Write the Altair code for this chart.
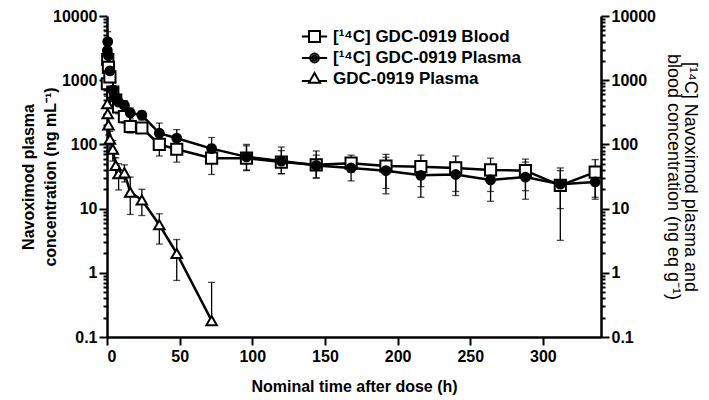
import altair as alt
import pandas as pd

S1 = "[¹⁴C] GDC-0919 Blood"
S2 = "[¹⁴C] GDC-0919  Plasma"
S3 = "GDC-0919  Plasma"
series_names = [S1, S2, S3]

t14 = [0.25, 0.5, 1, 2, 4, 6, 8, 12, 16, 24, 36, 48, 72, 96, 120, 144, 168, 192, 216, 240, 264, 288, 312, 336]
blood = [880, 2100, 1580, 1130, 650, 490, 385, 270, 190, 180, 100, 84, 61, 61, 53, 48, 51, 46, 45, 43, 40, 39, 23, 37]
blood_lo = [600, 1500, 1100, 800, 480, 380, 300, 215, 150, 150, 66, 53, 34, 39, 35, 30, 37, 20.6, 22, 18.5, 18.5, 19, 3.2, 15]
blood_hi = [1150, 2700, 2100, 1450, 820, 600, 470, 330, 230, 210, 130, 115, 100, 100, 91, 79, 68, 70, 68, 66, 61, 59, 43, 58]

plasma14 = [2900, 4000, 2400, 1400, 700, 520, 455, 405, 310, 285, 150, 125, 86, 64, 55, 47, 43, 39, 33, 34, 28, 31, 24, 26]
plasma14_lo = [2000, 2900, 1700, 1000, 520, 400, 350, 330, 250, 240, 110, 90, 55, 40, 35, 30, 27, 17, 15, 16, 13, 14, 10, 14]
plasma14_hi = [3800, 5700, 3200, 1900, 900, 650, 560, 480, 370, 330, 215, 170, 128, 95, 80, 68, 61, 63, 55, 53, 45, 53, 39, 45]

tg = [0.25, 0.5, 1, 2, 4, 6, 8, 12, 16, 24, 36, 48, 72]
gdc = [430, 300, 200, 120, 84, 47, 35, 36, 18, 13.6, 5.6, 2.0, 0.18]
gdc_lo = [300, 200, 140, 80, 55, 30, 19.5, 26, 8.1, 7.8, 2.8, 0.76, 0.18]
gdc_hi = [560, 400, 270, 160, 115, 62, 50, 48, 31, 20, 8.3, 3.3, 0.71]

rows = []
for name, ts, v, lo, hi in [(S1, t14, blood, blood_lo, blood_hi),
                            (S2, t14, plasma14, plasma14_lo, plasma14_hi),
                            (S3, tg, gdc, gdc_lo, gdc_hi)]:
    for a, b, c, d in zip(ts, v, lo, hi):
        rows.append({"t": a, "val": b, "lo": c, "hi": d, "series": name})
df = pd.DataFrame(rows)

FONT = "Liberation Sans"
ytick_vals = [round(m * 10 ** k, 6) for k in range(-1, 4) for m in range(1, 10)] + [10000]
xtick_vals = list(range(0, 341, 25))
is_major_y = "abs(log(datum.value)/LN10 - round(log(datum.value)/LN10)) < 0.001"
is_major_x = "datum.value % 50 === 0"

xscale = alt.Scale(domain=[0, 340], nice=False, zero=False)
yscale = alt.Scale(type="log", domain=[0.1, 10000], nice=False)
H = 321

def yaxis(orient, title, tx, lh, weight, size):
    return alt.Axis(
        orient=orient, values=ytick_vals, format="~g",
        labelExpr=f"{is_major_y} ? datum.label : ''",
        tickSize={"condition": {"test": is_major_y, "value": 8}, "value": 4},
        labelOverlap=False, title=title, titleAngle=(-90 if orient == "left" else 90),
        titleX=tx, titleY=H / 2, titleAlign="center", titleBaseline="middle",
        titleLineHeight=lh, titleFontWeight=weight, titleFontSize=size, labelPadding=2,
    )

xaxis = alt.Axis(
    values=xtick_vals, labelExpr=f"{is_major_x} ? datum.label : ''",
    tickSize={"condition": {"test": is_major_x, "value": 8}, "value": 4},
    labelOverlap=False, title="Nominal time after dose (h)", titlePadding=14, labelPadding=3,
)

base = alt.Chart(df)
X = alt.X("t:Q", scale=xscale, axis=xaxis)
Y = alt.Y("val:Q", scale=yscale,
          axis=yaxis("left", ["Navoximod plasma", "concentration (ng mL⁻¹)"], -79, 22, "bold", 16))

lines = base.mark_line(color="black", strokeWidth=2.5).encode(x=X, y=Y, detail="series:N")
bars = base.mark_rule(color="black", strokeWidth=1.3).encode(
    x="t:Q", y=alt.Y("lo:Q"), y2="hi:Q")
cap_hi = base.mark_tick(color="black", orient="horizontal", size=7, thickness=1.3).encode(
    x="t:Q", y="hi:Q")
cap_lo = base.transform_filter("datum.lo < datum.val").mark_tick(
    color="black", orient="horizontal", size=7, thickness=1.3).encode(x="t:Q", y="lo:Q")

def pts_layer(name, shape, fill, size):
    return base.transform_filter(alt.datum.series == name).mark_point(
        shape=shape, fill=fill, stroke="black", strokeWidth=2, opacity=1, fillOpacity=1, size=size
    ).encode(x="t:Q", y="val:Q")

pts1 = pts_layer(S1, "square", "white", 125)
pts2 = pts_layer(S2, "circle", "black", 78)
pts3 = pts_layer(S3, "triangle-up", "white", 110)

main = alt.layer(lines, bars, cap_hi, cap_lo, pts1, pts2, pts3)

leg_paths = [
    "M-2.3,0H-1M1,0H2.3M-1,-1H1V1H-1Z",
    "M-2.3,0H2.3M-0.8,0A0.8,0.8 0 1,0 0.8,0A0.8,0.8 0 1,0 -0.8,0ZM-0.4,0A0.4,0.4 0 1,0 0.4,0A0.4,0.4 0 1,0 -0.4,0Z",
    "M-2.3,0.45H-0.8M0.8,0.45H2.3M0,-1L1,0.75H-1Z",
]

legend_layer = base.transform_filter("false").mark_point(stroke="black", strokeWidth=2, opacity=1).encode(
    x=X,
    y=alt.Y("val:Q", scale=yscale,
            axis=yaxis("right", ["[¹⁴C] Navoximod plasma and", "blood concentration (ng eq g⁻¹)"], 88, 17, "normal", 18)),
    shape=alt.Shape("series:N", scale=alt.Scale(domain=series_names, range=leg_paths),
                    legend=alt.Legend(title=None, orient="none", legendX=199, legendY=12,
                                      symbolSize=121, symbolStrokeWidth=2, symbolStrokeColor="black",
                                      symbolFillColor="white",
                                      labelOffset=10, rowPadding=2.5, padding=0,
                                      labelFont=FONT, labelFontSize=17, labelFontWeight="bold",
                                      labelColor="black", labelLimit=400)),
)

chart = alt.layer(main, legend_layer).resolve_scale(
    y="independent"
).properties(
    width=494, height=H,
    autosize=alt.AutoSizeParams(type="none"),
    padding={"left": 99, "top": 8, "right": 100, "bottom": 62},
).configure_view(stroke=None).configure_axis(
    labelFont=FONT, labelFontSize=16, labelFontWeight="bold", labelColor="black",
    titleFont=FONT, titleFontSize=16, titleFontWeight="bold", titleColor="black",
    domainColor="black", domainWidth=2.5, tickColor="black", tickWidth=2, grid=False,
)

chart.save("out.html", embed_options={"renderer": "svg", "actions": False})
